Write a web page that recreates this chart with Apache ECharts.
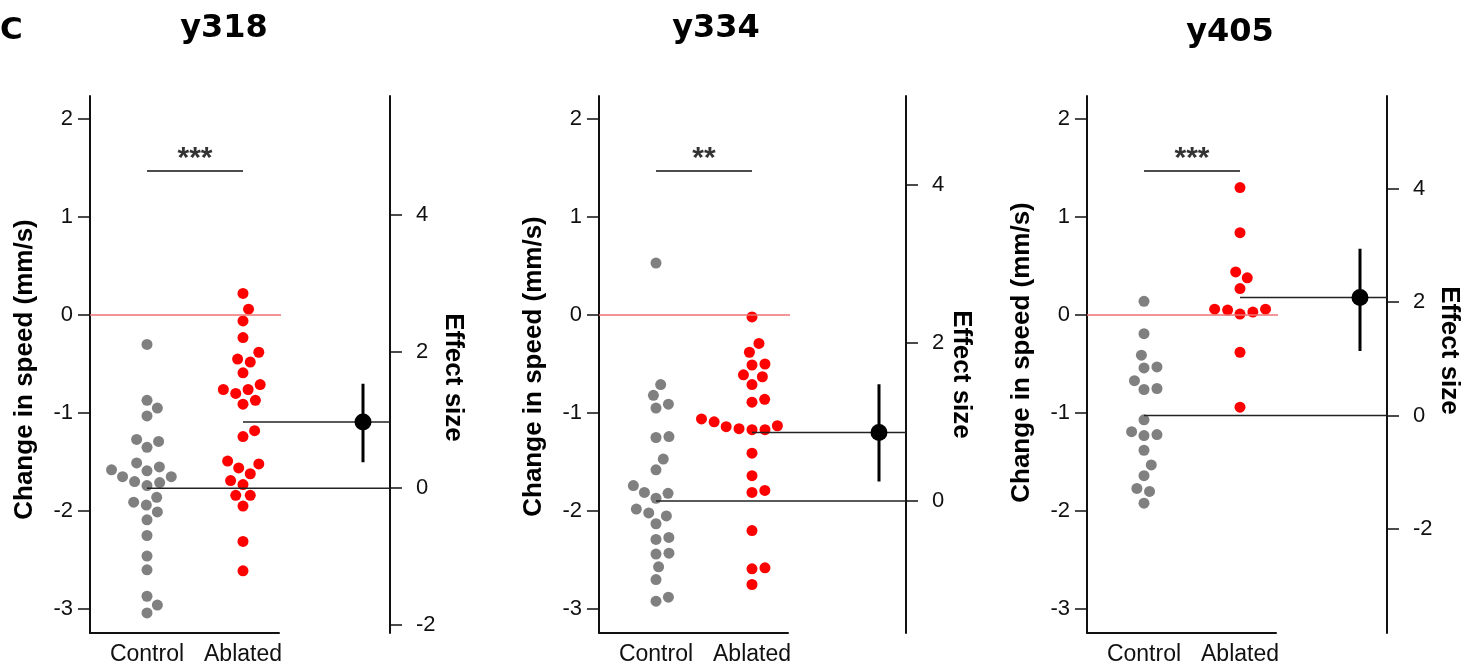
<!DOCTYPE html>
<html>
<head>
<meta charset="utf-8">
<title>Effect of ablation on speed</title>
<script src="https://cdn.jsdelivr.net/npm/echarts@6/dist/echarts.min.js"></script>
<style>
  html, body { margin: 0; padding: 0; background: #fff; }
  #main { width: 1470px; height: 668px; }
</style>
</head>
<body>
<div id="main"></div>
<script>
// 数据：每个面板的对照组 / 消融组速度变化 (mm/s)
var panelTitles = ['y318', 'y334', 'y405'];
var groupNames = ['Control', 'Ablated'];
var sigLabels = ['***', '**', '***'];
var sigLevel = 1.47;

var control318 = [-0.30, -0.87, -0.95, -1.03, -1.29, -1.27, -1.35, -1.51, -1.58, -1.59, -1.55, -1.65, -1.65,
  -1.74, -1.70, -1.71, -1.86, -1.91, -1.94, -2.01, -2.09, -2.25, -2.46, -2.60, -2.87, -2.96, -3.04];
var ablated318 = [0.22, 0.06, -0.06, -0.23, -0.38, -0.45, -0.48, -0.59, -0.80, -0.76, -0.76, -0.71, -0.87,
  -0.91, -1.18, -1.24, -1.52, -1.49, -1.56, -1.62, -1.69, -1.73, -1.84, -1.84, -1.95, -2.31, -2.61];

var control334 = [0.53, -0.71, -0.82, -0.91, -0.95, -1.24, -1.25, -1.47, -1.58, -1.74, -1.82, -1.81, -1.87,
  -1.98, -2.05, -2.02, -2.13, -2.27, -2.29, -2.43, -2.44, -2.57, -2.70, -2.88, -2.92];
var ablated334 = [-0.02, -0.29, -0.38, -0.50, -0.51, -0.61, -0.63, -0.71, -0.89, -0.86, -1.07, -1.06, -1.10,
  -1.09, -1.14, -1.17, -1.17, -1.13, -1.16, -1.41, -1.64, -1.79, -1.81, -2.20, -2.59, -2.58, -2.75];

var control405 = [0.14, -0.19, -0.41, -0.54, -0.53, -0.67, -0.75, -0.76, -1.07, -1.22, -1.19, -1.23, -1.38,
  -1.53, -1.64, -1.80, -1.77, -1.92];
var ablated405 = [1.30, 0.84, 0.44, 0.38, 0.27, 0.03, 0.06, 0.05, 0.01, 0.06, -0.38, -0.94];

var controlData = [control318, control334, control405];
var ablatedData = [ablated318, ablated334, ablated405];

// 效应量 (右轴)
var effectSize = [0.97, 0.87, 2.08];
var effectLow = [0.38, 0.25, 1.14];
var effectHigh = [1.53, 1.48, 2.94];

// 坐标轴刻度
var leftTicks = [-3, -2, -1, 0, 1, 2];
var rightTicks = [[-2, 0, 2, 4], [0, 2, 4], [-2, 0, 2, 4]];
var rightMin = [-2.12, -1.67, -3.83];
var rightMax = [5.74, 5.13, 5.63];

// 布局
var FONT = '"Liberation Sans", Arial, Helvetica, sans-serif';
var TITLE_FONT = '"DejaVu Sans", Verdana, sans-serif';
var axisLeft = [90, 599, 1087];
var axisRight = [390, 906, 1387];
var titleCenter = [224, 716, 1230];
var titleTop = [13, 13, 17];
var gridTop = 96, gridHeight = 537;
var xAxisWidth = 189;
var leftMin = -3.245, leftMax = 2.235;
var groupX = [57, 153];
var zeroLineEnd = 197;
var effectNameGap = [50, 37, 43];
var effectNamePad = [[0, 0, 0, 26], [0, 0, 0, 20], [0, 28, 0, 0]];
var speedNamePad = [[0, 10, 0, 0], [0, 4, 0, 0], [0, 0, 0, 24]];
var dotSize = 11;
var swarmGap = 13;

//蜂群图排布：按数值排序，依次放到离中心最近且不重叠的位置
function swarm(values, pxPerUnit, d) {
  var order = values.map(function (v, i) { return i; })
    .sort(function (a, b) { return values[a] - values[b]; });
  var placed = [];
  var offs = [];
  order.forEach(function (i) {
    var y = values[i] * pxPerUnit;
    var near = placed.filter(function (p) { return Math.abs(p.y - y) < d; });
    var lean = near.reduce(function (s, p) { return s + p.x; }, 0);
    var cands = [0];
    near.forEach(function (p) {
      var dx = Math.sqrt(d * d - (p.y - y) * (p.y - y));
      cands.push(p.x + dx, p.x - dx);
    });
    // 距中心最近优先，相同时放到较空的一侧
    cands.sort(function (a, b) {
      var da = Math.abs(a) - Math.abs(b);
      if (Math.abs(da) > 0.5) return da;
      return lean > 0 ? a - b : b - a;
    });
    var x = cands.find(function (c) {
      return near.every(function (p) {
        return (p.x - c) * (p.x - c) + (p.y - y) * (p.y - y) >= d * d - 1e-6;
      });
    });
    placed.push({ x: x, y: y });
    offs[i] = x;
  });
  return offs;
}

var pxPerUnit = gridHeight / (leftMax - leftMin);
var axisColor = '#111';

var option = {
  animation: false,
  backgroundColor: '#fff',
  textStyle: { fontFamily: FONT },
  title: [{
    text: 'C', left: 0, top: 15, padding: 0,
    textStyle: { fontFamily: TITLE_FONT, fontWeight: 'bold', fontSize: 31, color: '#000' }
  }],
  grid: [], xAxis: [], yAxis: [], series: []
};

panelTitles.forEach(function (name, p) {
  var L = axisLeft[p];
  var W = axisRight[p] - L;
  var gA = 2 * p, gB = 2 * p + 1;

  option.title.push({
    text: name, left: titleCenter[p], top: titleTop[p], textAlign: 'center', padding: 0,
    textStyle: { fontFamily: TITLE_FONT, fontWeight: 'bold', fontSize: 32, color: '#000' }
  });

  option.grid.push({ left: L, top: gridTop, width: xAxisWidth, height: gridHeight, outerBoundsMode: 'none' });
  option.grid.push({ left: L, top: gridTop, width: W, height: gridHeight, outerBoundsMode: 'none' });

  option.xAxis.push({
    gridIndex: gA, type: 'value', min: 0, max: xAxisWidth,
    axisLine: { show: true, onZero: false, lineStyle: { color: axisColor, width: 2 } },
    axisTick: { show: false },
    splitLine: { show: false },
    axisLabel: {
      customValues: groupX, margin: 10, fontSize: 23, color: '#111', fontFamily: FONT,
      formatter: function (v) { return v === groupX[0] ? groupNames[0] : groupNames[1]; }
    }
  });
  option.xAxis.push({ gridIndex: gB, type: 'value', min: 0, max: W, show: false });

  option.yAxis.push({
    gridIndex: gA, type: 'value', position: 'left', min: leftMin, max: leftMax,
    name: 'Change in speed (mm/s)', nameLocation: 'middle', nameGap: 52, nameRotate: 90,
    nameTextStyle: { fontFamily: FONT, fontWeight: 'bold', fontSize: 26, color: '#000', padding: speedNamePad[p] },
    axisLine: { show: true, onZero: false, lineStyle: { color: axisColor, width: 2 } },
    axisTick: { show: true, length: 12, customValues: leftTicks, lineStyle: { color: axisColor, width: 1.5 } },
    axisLabel: { customValues: leftTicks, margin: 17, fontSize: 22, color: '#111', fontFamily: FONT },
    splitLine: { show: false }
  });
  option.yAxis.push({
    gridIndex: gB, type: 'value', position: 'right', min: rightMin[p], max: rightMax[p],
    name: 'Effect size', nameLocation: 'middle', nameGap: effectNameGap[p], nameRotate: -90,
    nameTextStyle: { fontFamily: FONT, fontWeight: 'bold', fontSize: 26, color: '#000', padding: effectNamePad[p] },
    axisLine: { show: true, onZero: false, lineStyle: { color: axisColor, width: 2 } },
    axisTick: { show: true, length: 12, customValues: rightTicks[p], lineStyle: { color: axisColor, width: 1.5 } },
    axisLabel: { customValues: rightTicks[p], margin: 26, fontSize: 22, color: '#111', fontFamily: FONT },
    splitLine: { show: false }
  });

  var cOff = swarm(controlData[p], pxPerUnit, swarmGap);
  var aOff = swarm(ablatedData[p], pxPerUnit, swarmGap);

  option.series.push({
    type: 'scatter', xAxisIndex: gA, yAxisIndex: gA, symbolSize: dotSize, z: 2,
    itemStyle: { color: '#808080', opacity: 1 },
    data: controlData[p].map(function (v, i) { return [groupX[0] + cOff[i], v]; })
  });
  option.series.push({
    type: 'scatter', xAxisIndex: gA, yAxisIndex: gA, symbolSize: dotSize, z: 2,
    itemStyle: { color: '#ff0000', opacity: 1 },
    data: ablatedData[p].map(function (v, i) { return [groupX[1] + aOff[i], v]; })
  });
  // 零线
  option.series.push({
    type: 'line', xAxisIndex: gA, yAxisIndex: gA, symbol: 'none', clip: false, z: 3,
    lineStyle: { color: '#f07070', width: 1.5 },
    data: [[0, 0], [zeroLineEnd, 0]]
  });
  // 显著性标记
  option.series.push({
    type: 'line', xAxisIndex: gA, yAxisIndex: gA, symbol: 'none', z: 3,
    lineStyle: { color: '#111', width: 1.5 },
    data: [[groupX[0], sigLevel], [groupX[1], sigLevel]]
  });
  option.series.push({
    type: 'scatter', xAxisIndex: gA, yAxisIndex: gA, symbolSize: 0, z: 3,
    label: {
      show: true, position: 'top', distance: -3, formatter: sigLabels[p],
      fontFamily: FONT, fontSize: 30, fontWeight: 'bold', color: '#000'
    },
    data: [[(groupX[0] + groupX[1]) / 2, sigLevel]]
  });
  // 效应量
  option.series.push({
    type: 'line', xAxisIndex: gB, yAxisIndex: gB, symbol: 'none', z: 4,
    lineStyle: { color: '#222', width: 1.5 },
    data: [[groupX[0], 0], [W, 0]]
  });
  option.series.push({
    type: 'line', xAxisIndex: gB, yAxisIndex: gB, symbol: 'none', z: 4,
    lineStyle: { color: '#222', width: 1.5 },
    data: [[groupX[1], effectSize[p]], [W, effectSize[p]]]
  });
  option.series.push({
    type: 'line', xAxisIndex: gB, yAxisIndex: gB, symbol: 'none', z: 5,
    lineStyle: { color: '#000', width: 3 },
    data: [[W - 27, effectLow[p]], [W - 27, effectHigh[p]]]
  });
  option.series.push({
    type: 'scatter', xAxisIndex: gB, yAxisIndex: gB, symbolSize: 17, z: 6,
    itemStyle: { color: '#000', opacity: 1 },
    data: [[W - 27, effectSize[p]]]
  });
});

var chart = echarts.init(document.getElementById('main'));
chart.setOption(option);
</script>
</body>
</html>
